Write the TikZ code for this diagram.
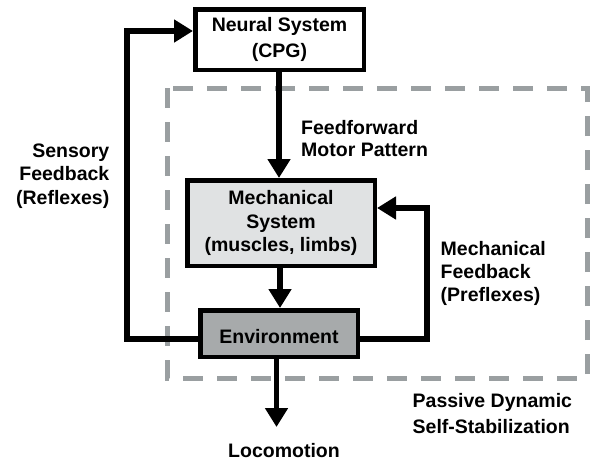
\documentclass[tikz,border=0pt]{standalone}
\usepackage{fontspec}
\setmainfont{Liberation Sans}
\usetikzlibrary{arrows.meta,calc}
\definecolor{dashgray}{HTML}{9A9FA1}
\definecolor{mechfill}{HTML}{E0E2E3}
\definecolor{envfill}{HTML}{A7AAAB}
\begin{document}
\begin{tikzpicture}[x=1pt,y=-1pt,
  every node/.style={font=\fontsize{19.5}{23.5}\selectfont\bfseries},
  blockbox/.style={draw=black,line width=4.5pt,align=center,inner sep=0pt},
  conn/.style={line width=5.5pt,-{Triangle[length=19pt,width=22pt]}},
  lbl/.style={inner sep=0pt}]
\useasboundingbox (0,0) rectangle (592,461);
\draw[dashgray,line width=5pt,dash pattern=on 20pt off 14pt] (167,88) rectangle (587,378);
\node[blockbox,fill=white,minimum width=168.5pt,minimum height=60.5pt,font=\fontsize{19.5}{26}\selectfont\bfseries] (neural) at (279.5,39.5) {Neural System\\(CPG)};
\node[blockbox,fill=mechfill,minimum width=187.5pt,minimum height=85.5pt] (mech) at (281,223) {Mechanical\\System\\(muscles, limbs)};
\node[blockbox,fill=envfill,minimum width=157.5pt,minimum height=46.5pt,text height=19.8pt,text depth=0pt] (env) at (279,333.5) {Environment};
\node[lbl,anchor=base] (loco) at (284,457.3) {Locomotion};
\node[lbl,anchor=base west,align=left,font=\fontsize{19.5}{21.7}\selectfont\bfseries] (ff) at (301,156) {Feedforward\\Motor Pattern};
\node[lbl,anchor=base east,align=right] (sens) at (109.5,204.3) {Sensory\\Feedback\\(Reflexes)};
\node[lbl,anchor=base west,align=left,font=\fontsize{19.5}{23}\selectfont\bfseries] (mfb) at (440.5,301.7) {Mechanical\\Feedback\\(Preflexes)};
\node[lbl,anchor=base west,align=left,font=\fontsize{19.5}{26}\selectfont\bfseries] (pass) at (412.5,433.3) {Passive Dynamic\\Self-Stabilization};
\coordinate (sl) at (127,339);
\coordinate (st) at (127,31);
\coordinate (mr) at (427,339);
\coordinate (mt) at (427,208);
\coordinate (lo) at (276.5,427);
\draw[conn] (neural.south -| 279,0) -- (mech.north -| 279,0);
\draw[conn] (mech.south -| 280,0) -- (env.north -| 280,0);
\draw[conn] (env.south -| 276.5,0) -- (lo);
\draw[conn] ($(env.west)+(0,5.5)$) -- (sl) -- (st) -- ($(neural.west)+(0,-8.5)$);
\draw[conn] ($(env.east)+(0,5.5)$) -- (mr) -- (mt) -- ($(mech.east)+(0,-15)$);
\end{tikzpicture}
\end{document}
